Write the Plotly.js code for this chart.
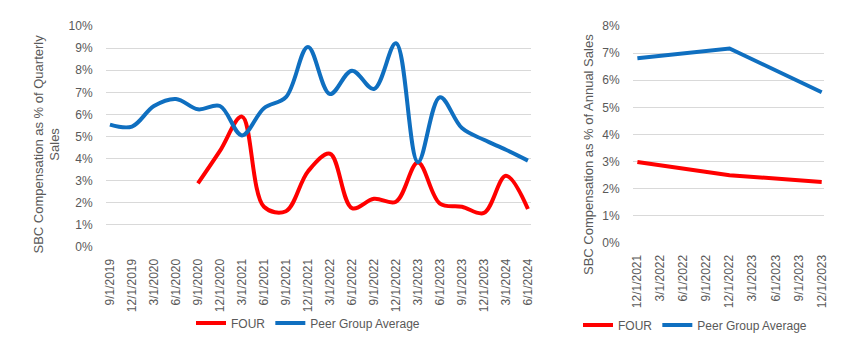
<!DOCTYPE html>
<html><head><meta charset="utf-8">
<script src="https://cdn.plot.ly/plotly-3.0.1.min.js"></script>
<style>html,body{margin:0;padding:0;background:#fff}#chart{width:849px;height:351px}</style>
</head><body><div id="chart"></div>
<script>
// Quarterly chart data
const quarters = ["9/1/2019","12/1/2019","3/1/2020","6/1/2020","9/1/2020","12/1/2020","3/1/2021","6/1/2021","9/1/2021","12/1/2021","3/1/2022","6/1/2022","9/1/2022","12/1/2022","3/1/2023","6/1/2023","9/1/2023","12/1/2023","3/1/2024","6/1/2024"];
const fourQuarterly = [null,null,null,null,2.88,4.35,5.9,1.82,1.62,3.42,4.22,1.76,2.18,2.05,3.82,1.96,1.82,1.54,3.22,1.72];
const peerQuarterly = [5.54,5.45,6.38,6.7,6.23,6.38,5.05,6.28,6.78,9.05,6.92,7.98,7.15,9.22,3.84,6.78,5.38,4.85,4.4,3.91];
// Annual chart data
const annualDates = ["12/1/2021","3/1/2022","6/1/2022","9/1/2022","12/1/2022","3/1/2023","6/1/2023","9/1/2023","12/1/2023"];
const fourAnnual = [2.99,null,null,null,2.5,null,null,null,2.25];
const peerAnnual = [6.81,null,null,null,7.17,null,null,null,5.56];
const quarterlyTitle = "SBC Compensation as % of Quarterly<br>Sales";
const annualTitle = "SBC Compensation as % of Annual Sales";

const RED = "#FF0000", BLUE = "#0F6FC0";
const W = 849, H = 351;
const FAM = "Liberation Sans, Arial, sans-serif";
const font = {family: FAM, size: 12, color: "#595959"};

const traces = [
  {x: quarters, y: fourQuarterly, type: "scatter", mode: "lines", name: "FOUR",
   line: {color: RED, width: 4, shape: "spline", smoothing: 1}, xaxis: "x", yaxis: "y", legend: "legend"},
  {x: quarters, y: peerQuarterly, type: "scatter", mode: "lines", name: "Peer Group Average",
   line: {color: BLUE, width: 4, shape: "spline", smoothing: 1}, xaxis: "x", yaxis: "y", legend: "legend"},
  {x: annualDates, y: fourAnnual, type: "scatter", mode: "lines", name: "FOUR", connectgaps: true,
   line: {color: RED, width: 4}, xaxis: "x2", yaxis: "y2", legend: "legend2"},
  {x: annualDates, y: peerAnnual, type: "scatter", mode: "lines", name: "Peer Group Average", connectgaps: true,
   line: {color: BLUE, width: 4}, xaxis: "x2", yaxis: "y2", legend: "legend2"}
];

const xCommon = {type: "category", showgrid: false, zeroline: false, showline: false,
  tickangle: -90, ticks: "outside", ticklen: 6, tickcolor: "rgba(0,0,0,0)", tickfont: font, fixedrange: true};
const yCommon = {showgrid: true, gridcolor: "#D9D9D9", gridwidth: 1, zeroline: false, showline: false,
  ticksuffix: "%", ticks: "outside", ticklen: 10, tickcolor: "rgba(0,0,0,0)", tickfont: font, fixedrange: true};

const titleFont = {family: FAM, size: 13, color: "#595959"};

const layout = {
  width: W, height: H,
  margin: {l: 0, r: 0, t: 0, b: 0},
  paper_bgcolor: "#fff", plot_bgcolor: "#fff",
  font: font,
  xaxis: Object.assign({}, xCommon, {domain: [106/W, 531/W], range: [-0.18, 19.14], anchor: "y"}),
  yaxis: Object.assign({}, yCommon, {domain: [1-247/H, 1-26/H], range: [0, 10], dtick: 1, anchor: "x"}),
  xaxis2: Object.assign({}, xCommon, {domain: [633/W, 824/W], range: [-0.19, 8.1], anchor: "y2"}),
  yaxis2: Object.assign({}, yCommon, {domain: [1-243/H, 1-26/H], range: [0, 8], dtick: 1, anchor: "x2"}),
  annotations: [
    {text: quarterlyTitle, xref: "paper", yref: "paper", x: 46/W, y: 1-144.5/H, xanchor: "center", yanchor: "middle",
     textangle: -90, showarrow: false, font: titleFont},
    {text: annualTitle, xref: "paper", yref: "paper", x: 588/W, y: 1-155/H, xanchor: "center", yanchor: "middle",
     textangle: -90, showarrow: false, font: titleFont}
  ],
  legend: {orientation: "h", x: 191/W, y: 1-323/H, xanchor: "left", yanchor: "middle",
    font: {family: FAM, size: 12, color: "#595959"}, bgcolor: "rgba(0,0,0,0)", tracegroupgap: 0},
  legend2: {orientation: "h", x: 578/W, y: 1-325/H, xanchor: "left", yanchor: "middle",
    font: {family: FAM, size: 12, color: "#595959"}, bgcolor: "rgba(0,0,0,0)", tracegroupgap: 0},
  showlegend: true
};

Plotly.newPlot("chart", traces, layout, {displayModeBar: false, staticPlot: true});
</script></body></html>
